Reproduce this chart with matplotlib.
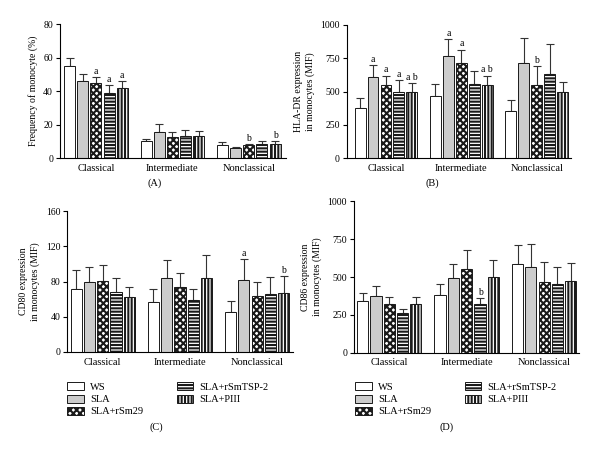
import numpy as np
import matplotlib
matplotlib.use('Agg')
import matplotlib.pyplot as plt
from matplotlib.patches import Patch

plt.rcParams['font.family'] = ['Liberation Serif', 'DejaVu Serif']
plt.rcParams['hatch.linewidth'] = 1.5

groups = ['Classical', 'Intermediate', 'Nonclassical']
series = ['WS', 'SLA', 'SLA+rSm29', 'SLA+rSmTSP-2', 'SLA+PIII']

# panel A: frequency of monocyte (%), mean and top of error bar
freq_mean = [[55, 10, 7.8], [46, 15.5, 5.8], [45, 12.5, 7.8], [39, 13, 8.4], [42, 13, 8.4]]
freq_top = [[59.5, 11.3, 9.4], [50, 20.3, 6.6], [48.4, 15.5, 8.2], [43.4, 16.5, 10], [46.2, 16.3, 10]]
freq_sig = [['', '', ''], ['', '', ''], ['a', '', 'b'], ['a', '', ''], ['a', '', 'b']]

# panel B: HLA-DR
hla_mean = [[375, 465, 357], [610, 770, 717], [552, 717, 550], [500, 557, 635], [500, 547, 493]]
hla_top = [[450, 555, 435], [700, 893, 903], [620, 815, 688], [585, 652, 860], [565, 620, 570]]
hla_sig = [['', '', ''], ['a', 'a', ''], ['a', 'a', 'b'], ['a', '', ''], ['a b', 'a b', '']]

# panel C: CD80
cd80_mean = [[71, 57, 45], [79.6, 84, 82.3], [80.8, 74, 63.8], [68.3, 58.9, 66], [62.6, 84.5, 67.5]]
cd80_top = [[93.6, 71.3, 57.7], [96.6, 104.5, 105.3], [99, 89.4, 79.2], [84, 71.7, 85.7], [73.6, 110.6, 86.4]]
cd80_sig = [['', '', ''], ['', '', 'a'], ['', '', ''], ['', '', ''], ['', '', 'b']]

# panel D: CD86
cd86_mean = [[345, 383, 587], [378, 493, 565], [321, 556, 468], [264, 323, 453], [321, 497, 471]]
cd86_top = [[396, 455, 710], [440, 587, 715], [369, 675, 596], [292, 363, 563], [369, 614, 594]]
cd86_sig = [['', '', ''], ['', '', ''], ['', '', ''], ['', 'b', ''], ['', '', '']]

faces = ['white', '#cccccc', 'white', 'white', 'white']
hatches = [None, None, 'xxxxx', '-----', '|||||']
edge = '#1a1a1a'


def draw(ax, mean, top, sig, ymax, yticks, ylabel, xlim, label, lab_xy):
    x = np.arange(len(groups))
    step = 0.172
    w = 0.145
    for i in range(len(series)):
        xs = x + (i - 2) * step
        m = np.array(mean[i])
        t = np.array(top[i])
        ax.bar(xs, m, w, color=faces[i], edgecolor=edge, hatch=hatches[i], linewidth=0.7, zorder=2)
        ax.errorbar(xs, m, yerr=[np.zeros_like(m), t - m], fmt='none', ecolor='#333333',
                    elinewidth=0.8, capsize=3.2, capthick=0.8, zorder=1)
        for j in range(len(groups)):
            if sig[i][j]:
                ax.text(xs[j], t[j] + ymax * 0.008, sig[i][j], ha='center', va='bottom', fontsize=7)
    ax.set_xlim(*xlim)
    ax.set_ylim(0, ymax)
    ax.set_yticks(yticks)
    ax.set_xticks(x)
    ax.set_xticklabels(groups, fontsize=7.5)
    ax.tick_params(axis='x', length=0, pad=4)
    ax.tick_params(axis='y', labelsize=7, length=3, width=0.8, pad=2)
    ax.spines['top'].set_visible(False)
    ax.spines['right'].set_visible(False)
    ax.spines['left'].set_linewidth(0.8)
    ax.spines['bottom'].set_linewidth(0.8)
    ax.set_ylabel(ylabel, fontsize=7, labelpad=4, linespacing=1.3)
    fig.text(lab_xy[0], lab_xy[1], label, ha='center', va='center', fontsize=7.5)


fig = plt.figure(figsize=(6, 4.53), dpi=100)

axA = fig.add_axes([0.100, 0.651, 0.377, 0.296])
draw(axA, freq_mean, freq_top, freq_sig, 80, [0, 20, 40, 60, 80],
     'Frequency of monocyte (%)', (-0.47, 2.49), '(A)', (0.258, 0.596))

axB = fig.add_axes([0.578, 0.651, 0.373, 0.294])
draw(axB, hla_mean, hla_top, hla_sig, 1000, [0, 250, 500, 750, 1000],
     'HLA-DR expression\nin monocytes (MIF)', (-0.52, 2.45), '(B)', (0.72, 0.596))

axC = fig.add_axes([0.112, 0.223, 0.377, 0.311])
draw(axC, cd80_mean, cd80_top, cd80_sig, 160, [0, 40, 80, 120, 160],
     'CD80 expression\nin monocytes (MIF)', (-0.46, 2.47), '(C)', (0.26, 0.057))

axD = fig.add_axes([0.590, 0.221, 0.375, 0.335])
draw(axD, cd86_mean, cd86_top, cd86_sig, 1000, [0, 250, 500, 750, 1000],
     'CD86 expression\nin monocytes (MIF)', (-0.455, 2.45), '(D)', (0.745, 0.057))

handles = [Patch(facecolor=faces[i], edgecolor=edge, hatch=hatches[i], linewidth=0.7, label=series[i])
           for i in range(len(series))]
for ax, x0 in [(axC, 0.105), (axD, 0.585)]:
    fig.legend(handles=handles, loc='upper left', bbox_to_anchor=(x0, 0.165), ncol=2,
               frameon=False, fontsize=7.5, handlelength=1.6, handleheight=0.8,
               handletextpad=0.6, columnspacing=3.2, labelspacing=0.25, borderaxespad=0)

fig.savefig('out.png', dpi=100)
